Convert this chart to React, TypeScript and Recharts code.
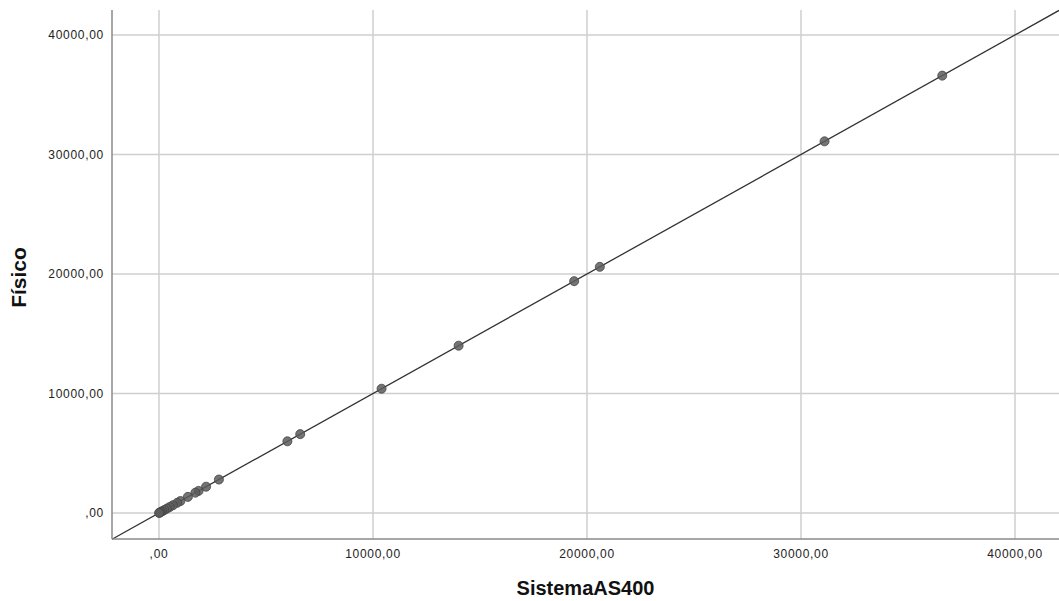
import {
  CartesianGrid,
  Label,
  ReferenceLine,
  Scatter,
  ScatterChart,
  XAxis,
  YAxis,
} from "recharts";

// SistemaAS400 vs Físico
const sistemaAS400 = [
  36600, 31100, 20600, 19400, 14000, 10400, 6600, 6000, 2800, 2200, 1850,
  1700, 1350, 1000, 850, 650, 500, 370, 250, 150, 80, 30, 5,
];
const fisico = [
  36600, 31100, 20600, 19400, 14000, 10400, 6600, 6000, 2800, 2200, 1850,
  1700, 1350, 1000, 850, 650, 500, 370, 250, 150, 80, 30, 5,
];
const xTicks = [0, 10000, 20000, 30000, 40000];
const yTicks = [0, 10000, 20000, 30000, 40000];
const xDomain = [-2196, 42056];
const yDomain = [-2176, 42092];
// identity line y = x across the plot
const fitLine = [
  { x: -2196, y: -2196 },
  { x: 42056, y: 42056 },
];

const points = sistemaAS400.map((x, i) => ({ x, y: fisico[i] }));

const FONT = "'Liberation Sans', Arial, sans-serif";
const tickStyle = { fontSize: 12, fill: "#222", fontFamily: FONT, letterSpacing: 0.7 };
const fmt = (v: number) => (v === 0 ? ",00" : `${v},00`);

const XTitle = ({ viewBox }: any) => (
  <text
    x={viewBox.x + viewBox.width / 2}
    y={viewBox.y + 56}
    textAnchor="middle"
    fontFamily={FONT}
    fontWeight="bold"
    fontSize={20}
    fill="#111"
  >
    SistemaAS400
  </text>
);

const YTitle = ({ viewBox }: any) => {
  const cx = 26;
  const cy = viewBox.y + viewBox.height / 2 + 3;
  return (
    <text
      x={cx}
      y={cy}
      transform={`rotate(-90 ${cx} ${cy})`}
      textAnchor="middle"
      fontFamily={FONT}
      fontWeight="bold"
      fontSize={21}
      fill="#111"
    >
      Físico
    </text>
  );
};

export default function App() {
  return (
    <div style={{ position: "absolute", left: 0, top: 0, background: "#fff" }}>
      <ScatterChart
        width={1059}
        height={601}
        margin={{ top: 10, right: 0, bottom: 0, left: 0 }}
      >
        <CartesianGrid
          stroke="#cfcfcf"
          strokeWidth={1.5}
          horizontalValues={yTicks}
          verticalValues={xTicks}
        />
        <XAxis
          type="number"
          dataKey="x"
          domain={xDomain}
          ticks={xTicks}
          allowDataOverflow
          height={62}
          tickLine={false}
          tickMargin={4}
          axisLine={{ stroke: "#8a8a8a", strokeWidth: 1.5 }}
          tick={tickStyle}
          tickFormatter={fmt}
        >
          <Label content={XTitle} />
        </XAxis>
        <YAxis
          type="number"
          dataKey="y"
          domain={yDomain}
          ticks={yTicks}
          allowDataOverflow
          width={112}
          tickLine={false}
          tickMargin={2}
          axisLine={{ stroke: "#8a8a8a", strokeWidth: 1.5 }}
          tick={tickStyle}
          tickFormatter={fmt}
        >
          <Label content={YTitle} />
        </YAxis>
        <ReferenceLine
          segment={fitLine}
          stroke="#333"
          strokeWidth={1.3}
          ifOverflow="visible"
        />
        <Scatter
          data={points}
          fill="#5c5c5c"
          fillOpacity={0.85}
          stroke="#444"
          strokeWidth={0.8}
          isAnimationActive={false}
        />
      </ScatterChart>
    </div>
  );
}
